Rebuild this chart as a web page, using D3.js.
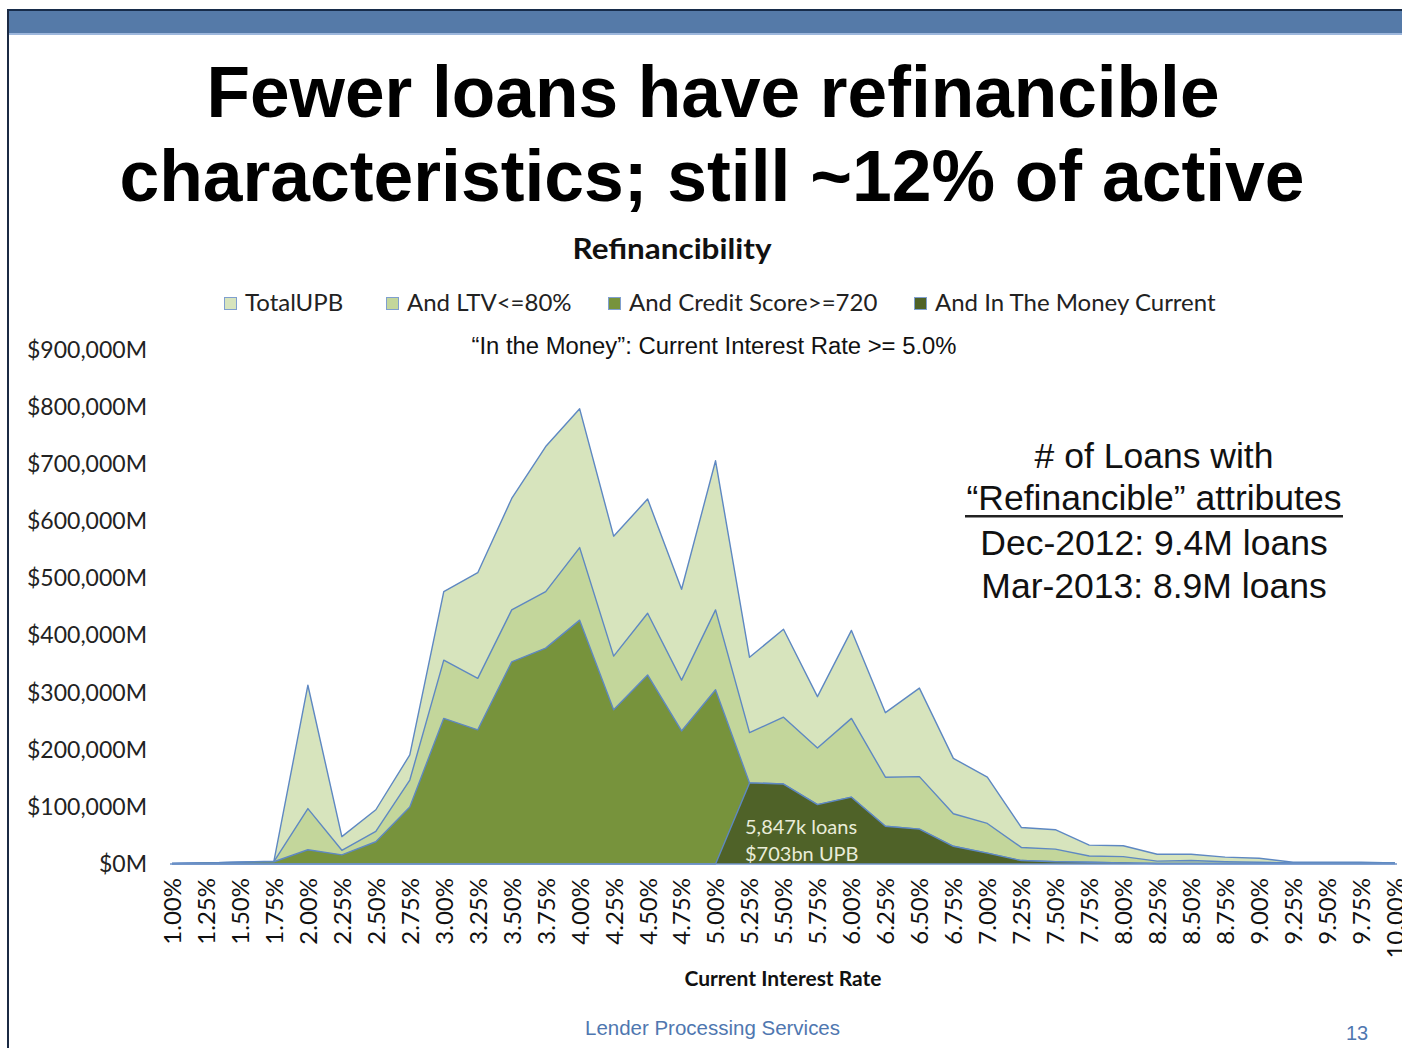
<!DOCTYPE html>
<html>
<head>
<meta charset="utf-8">
<script src="https://cdn.jsdelivr.net/npm/d3@7"></script>
<style>
  html, body { margin: 0; padding: 0; background: #ffffff; }
  svg { display: block; }
</style>
</head>
<body>
<div id="chart"></div>
<script>
// Current interest rate buckets
const rates = ["1.00%","1.25%","1.50%","1.75%","2.00%","2.25%","2.50%","2.75%","3.00%","3.25%",
  "3.50%","3.75%","4.00%","4.25%","4.50%","4.75%","5.00%","5.25%","5.50%","5.75%",
  "6.00%","6.25%","6.50%","6.75%","7.00%","7.25%","7.50%","7.75%","8.00%","8.25%",
  "8.50%","8.75%","9.00%","9.25%","9.50%","9.75%","10.00%"];

// Unpaid principal balance, $M
const totalUPB = [1000,2000,3000,5000,313000,48000,95000,191000,477000,510000,
  640000,731000,797000,574000,639000,481000,706000,362000,411000,293000,
  409000,265000,308000,185000,152000,64000,60000,33000,32000,17000,
  17000,12000,10000,3000,3000,3000,2000];

const ltv80 = [1000,2000,3000,4000,97000,24000,57000,147000,357000,325000,
  445000,477000,554000,364000,439000,322000,445000,230000,257000,203000,
  255000,152000,153000,88000,71000,29000,26000,14000,13000,5000,
  6000,4000,3000,2000,2000,2000,2000];

const credit720 = [1000,2000,3000,4000,25000,16000,39000,100000,255000,235000,
  354000,378000,427000,270000,331000,233000,305000,142000,140000,104000,
  117000,66000,61000,31000,19000,6000,4000,3000,2000,1000,
  1000,1000,1000,1000,1000,1000,1000];

const inTheMoney = [0,0,0,0,0,0,0,0,0,0,
  0,0,0,0,0,0,0,142000,140000,104000,
  117000,66000,61000,31000,19000,6000,4000,3000,2000,1000,
  1000,1000,1000,1000,1000,1000,1000];

const seriesNames = ["TotalUPB","And LTV<=80%","And Credit Score>=720","And In The Money Current"];
const seriesColors = ["#d7e4bd","#c3d69b","#77933c","#4f6228"];
const yTicks = [0,100000,200000,300000,400000,500000,600000,700000,800000,900000];

const W = 1402, H = 1048;
const svg = d3.select("#chart").append("svg").attr("width", W).attr("height", H);

// Slide frame: header band and left rule
svg.append("rect").attr("x", 8).attr("y", 10).attr("width", W - 8).attr("height", 24).attr("fill", "#557aa8");
svg.append("rect").attr("x", 8).attr("y", 9).attr("width", W - 8).attr("height", 2).attr("fill", "#172c4a");
svg.append("rect").attr("x", 8).attr("y", 33).attr("width", W - 8).attr("height", 2).attr("fill", "#9db7dc");
svg.append("rect").attr("x", 7).attr("y", 9).attr("width", 2).attr("height", H - 9).attr("fill", "#1b2a44");

// Slide title
const titleFont = "'Liberation Sans', Arial, sans-serif";
svg.append("text").attr("x", 713).attr("y", 117).attr("text-anchor", "middle")
  .attr("font-family", titleFont).attr("font-weight", "bold").attr("font-size", 72)
  .attr("textLength", 1013).attr("lengthAdjust", "spacingAndGlyphs")
  .text("Fewer loans have refinancible");
svg.append("text").attr("x", 712).attr("y", 201).attr("text-anchor", "middle")
  .attr("font-family", titleFont).attr("font-weight", "bold").attr("font-size", 72)
  .attr("textLength", 1185).attr("lengthAdjust", "spacingAndGlyphs")
  .text("characteristics; still ~12% of active");

const chartFont = "Lato, 'Open Sans', sans-serif";

// Chart title
svg.append("text").attr("x", 672).attr("y", 259).attr("text-anchor", "middle")
  .attr("font-family", chartFont).attr("font-weight", "bold").attr("font-size", 28)
  .attr("textLength", 199).attr("lengthAdjust", "spacingAndGlyphs")
  .attr("fill", "#111").text("Refinancibility");

// Legend
const legendX = [224, 386, 608, 914];
const legend = svg.append("g");
seriesNames.forEach((name, i) => {
  const g = legend.append("g").attr("transform", `translate(${legendX[i]},297)`);
  g.append("rect").attr("x", 0.5).attr("y", 0.5).attr("width", 12).attr("height", 12)
    .attr("fill", seriesColors[i]).attr("stroke", "#7f9fcf").attr("stroke-width", 1);
  g.append("text").attr("x", 21).attr("y", 14).attr("font-family", chartFont)
    .attr("font-size", 24).attr("fill", "#222").text(name);
});

svg.append("text").attr("x", 714).attr("y", 354).attr("text-anchor", "middle")
  .attr("font-family", titleFont).attr("font-size", 23).attr("fill", "#111")
  .attr("textLength", 485).attr("lengthAdjust", "spacingAndGlyphs")
  .text("\u201CIn the Money\u201D: Current Interest Rate >= 5.0%");

// Scales
const x = d3.scalePoint().domain(rates).range([172, 1395]);
const y = d3.scaleLinear().domain([0, 900000]).range([864, 350]);

// Y axis labels
const yAxis = d3.axisLeft(y).tickValues(yTicks).tickSize(0).tickPadding(0)
  .tickFormat(d => "$" + d3.format(",")(d / 1000) + (d === 0 ? "" : ",000") + "M");
const gy = svg.append("g").attr("transform", "translate(147,0)").call(yAxis);
gy.select(".domain").remove();
gy.selectAll("text").attr("font-family", chartFont).attr("font-size", 23).attr("fill", "#222");

// Overlapping area series, back to front
const dataSets = [totalUPB, ltv80, credit720, inTheMoney];
const area = d3.area()
  .x((d, i) => x(rates[i]))
  .y0(y(0))
  .y1(d => y(d));
const line = d3.line()
  .x((d, i) => x(rates[i]))
  .y(d => y(d));
const plot = svg.append("g");
dataSets.forEach((vals, i) => {
  plot.append("path").datum(vals).attr("d", area).attr("fill", seriesColors[i]);
  plot.append("path").datum(vals).attr("d", line).attr("fill", "none")
    .attr("stroke", "#5e88c2").attr("stroke-width", 1.4).attr("stroke-linejoin", "round");
});
plot.append("line").attr("x1", x(rates[0]) - 2).attr("x2", x(rates[rates.length - 1]) + 2)
  .attr("y1", y(0)).attr("y2", y(0)).attr("stroke", "#6f93c8").attr("stroke-width", 1.6);

// X axis labels (rotated)
const xAxis = d3.axisBottom(x).tickSize(0).tickPadding(0);
const gx = svg.append("g").attr("transform", "translate(0,878)").call(xAxis);
gx.select(".domain").remove();
gx.selectAll("text")
  .attr("font-family", chartFont).attr("font-size", 24).attr("fill", "#111")
  .attr("text-anchor", "end").attr("dy", "0.35em").attr("y", 0)
  .attr("transform", "rotate(-90)");

svg.append("text").attr("x", 783).attr("y", 986).attr("text-anchor", "middle")
  .attr("font-family", chartFont).attr("font-weight", "bold").attr("font-size", 21)
  .attr("fill", "#111").text("Current Interest Rate");

// In-the-money callout
const itmLoans = "5,847k loans";
const itmUPB = "$" + d3.sum(inTheMoney) / 1000 + "bn UPB";
svg.append("text").attr("x", 745).attr("y", 834).attr("font-family", chartFont)
  .attr("font-size", 20).attr("fill", "#e9ecd9").text(itmLoans);
svg.append("text").attr("x", 745).attr("y", 861).attr("font-family", chartFont)
  .attr("font-size", 20).attr("fill", "#e9ecd9").text(itmUPB);

// Loan count note
const note = ["# of Loans with", "\u201CRefinancible\u201D attributes", "Dec-2012: 9.4M loans", "Mar-2013: 8.9M loans"];
const noteY = [468, 510, 555, 598];
note.forEach((t, i) => {
  svg.append("text").attr("x", 1154).attr("y", noteY[i]).attr("text-anchor", "middle")
    .attr("font-family", titleFont).attr("font-size", 35.5).attr("fill", "#111").text(t);
});
svg.append("rect").attr("x", 965).attr("y", 515).attr("width", 378).attr("height", 2.5).attr("fill", "#222");

// Footer
svg.append("text").attr("x", 585).attr("y", 1035).attr("font-family", titleFont)
  .attr("font-size", 20).attr("fill", "#4f77b0")
  .attr("textLength", 255).attr("lengthAdjust", "spacingAndGlyphs")
  .text("Lender Processing Services");
svg.append("text").attr("x", 1346).attr("y", 1040).attr("font-family", titleFont)
  .attr("font-size", 20).attr("fill", "#4f77b0").text("13");
</script>
</body>
</html>
